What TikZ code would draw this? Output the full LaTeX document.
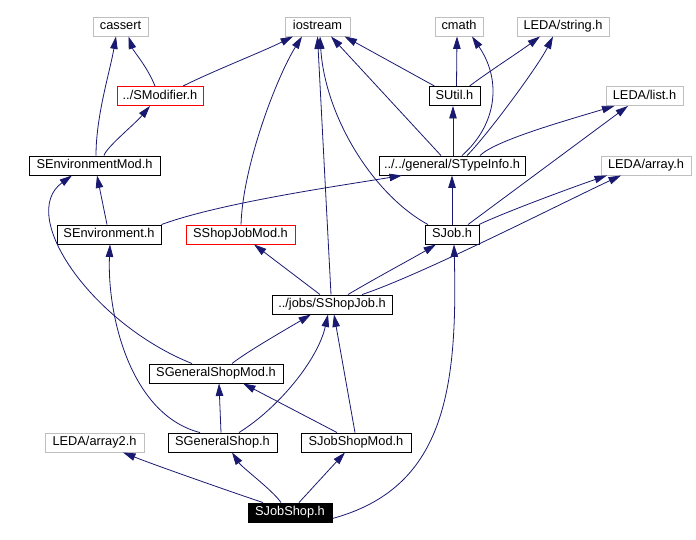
\documentclass[tikz,border=0pt]{standalone}
\usepackage{fontspec}
\newfontfamily\dotfont{Liberation Sans}
\usetikzlibrary{arrows.meta}

\definecolor{edgeblue}{HTML}{191970}
\definecolor{extgrey}{HTML}{BFBFBF}

\tikzset{
  hdr/.style={draw=black, fill=white, line width=0.9pt, inner xsep=2pt, inner ysep=0pt,
    minimum height=19pt, text height=9.6pt, text depth=2.7pt,
    font=\dotfont\fontsize{12.8}{14}\selectfont},
  ext/.style={hdr, draw=extgrey},
  miss/.style={hdr, draw=red},
  cur/.style={hdr, fill=black, text=white},
  dep/.style={edgeblue, line width=0.8pt, -{Triangle[length=12.5pt,width=7.5pt]}}
}

\begin{document}
\begin{tikzpicture}[x=1pt, y=-1pt]

\useasboundingbox (0,0) rectangle (696,540);

\node[ext, minimum width=55pt]   (cassert)  at (120.5,26.5) {cassert};
\node[ext, minimum width=65pt]   (iostream) at (317.5,26.5) {iostream};
\node[ext, minimum width=48pt]   (cmath)    at (459,26.5)   {cmath};
\node[ext, minimum width=92pt]   (ledastr)  at (563,26.5)   {LEDA/string.h};

\node[miss, minimum width=86pt]  (smod)     at (160,96)     {../SModifier.h};
\node[hdr, minimum width=51pt]   (sutil)    at (454.5,96)   {SUtil.h};
\node[ext, minimum width=77pt]   (ledalist) at (644.5,96)   {LEDA/list.h};

\node[hdr, minimum width=131pt]  (senvmod)  at (94.5,165.5) {SEnvironmentMod.h};
\node[hdr, minimum width=146pt]  (stype)    at (452,165.5)  {../../general/STypeInfo.h};
\node[ext, minimum width=90pt]   (ledaarr)  at (646,165.5)  {LEDA/array.h};

\node[hdr, minimum width=104pt]  (senv)     at (109,234.5)  {SEnvironment.h};
\node[miss, minimum width=109pt] (ssjmod)   at (240.5,234.5) {SShopJobMod.h};
\node[hdr, minimum width=54pt]   (sjob)     at (452,234.5)  {SJob.h};

\node[hdr, minimum width=120pt]  (sshopjob) at (332,304.5)  {../jobs/SShopJob.h};

\node[hdr, minimum width=134pt]  (sgsmod)   at (216,373.5)  {SGeneralShopMod.h};

\node[ext, minimum width=99pt]   (ledaarr2) at (94.5,442.5) {LEDA/array2.h};
\node[hdr, minimum width=109pt]  (sgs)      at (222.5,442.5) {SGeneralShop.h};
\node[hdr, minimum width=110pt]  (sjsmod)   at (356,442.5)  {SJobShopMod.h};

\node[cur, minimum width=84pt]   (sjs)      at (290,512.5)  {SJobShop.h};

\draw[dep] ([xshift=-5pt]smod.north) .. controls +(-8,-20) and +(5,15) .. ([xshift=8pt]cassert.south);
\draw[dep] ([xshift=23pt]smod.north) .. controls +(30,-15) and +(-30,15) .. ([xshift=-24.5pt]iostream.south);
\draw[dep] ([xshift=1.5pt]senvmod.north) .. controls +(0,-40) and +(-6,35) .. ([xshift=-4.5pt]cassert.south);
\draw[dep] ([xshift=9.5pt]senvmod.north) .. controls +(2,-8) and +(-15,18) .. ([xshift=-10pt]smod.south);
\draw[dep] ([xshift=-2pt]senv.north) -- ([xshift=2.5pt]senvmod.south);
\draw[dep] (senv.north east) .. controls +(60,-22) and +(-60,10) .. ([xshift=-50pt]stype.south);

\draw[dep] ([xshift=-20pt]sutil.north) -- ([xshift=27pt]iostream.south);
\draw[dep] ([xshift=2pt]sutil.north) -- ([xshift=-2pt]cmath.south);
\draw[dep] ([xshift=15pt]sutil.north) .. controls +(20,-15) and +(-20,15) .. ([xshift=-23pt]ledastr.south);

\draw[dep] ([xshift=-11pt]stype.north) -- ([xshift=13.5pt]iostream.south);
\draw[dep] ([xshift=10pt]stype.north) .. controls +(35,-31) and +(30,44) .. ([xshift=13pt]cmath.south);
\draw[dep] ([xshift=15pt]stype.north) .. controls +(20,-20) and +(-15,30) .. ([xshift=-10pt]ledastr.south);
\draw[dep] ([xshift=1pt]stype.north) -- ([xshift=-1.5pt]sutil.south);
\draw[dep] ([xshift=28pt]stype.north) .. controls +(15,-15) and +(-50,15) .. ([xshift=-30pt]ledalist.south);

\draw[dep] ([xshift=0.5pt]ssjmod.north) .. controls +(2,-60) and +(-25,40) .. ([xshift=-15.5pt]iostream.south);

\draw[dep] ([xshift=-24pt]sjob.north) .. controls +(-55,-30) and +(5,80) .. ([xshift=2.5pt]iostream.south);
\draw[dep] (sjob.north) -- (stype.south);
\draw[dep] ([xshift=16pt]sjob.north) -- ([xshift=-16.5pt]ledalist.south);
\draw[dep] ([xshift=27pt]sjob.north) .. controls +(25,-12) and +(-35,12) .. ([xshift=-39pt]ledaarr.south);

\draw[dep] ([xshift=-1pt]sshopjob.north) -- (iostream.south);
\draw[dep] ([xshift=-12pt]sshopjob.north) -- ([xshift=13.5pt]ssjmod.south);
\draw[dep] ([xshift=16pt]sshopjob.north) .. controls +(25,-15) and +(-20,12) .. ([xshift=-16pt]sjob.south);
\draw[dep] ([xshift=30pt]sshopjob.north) .. controls +(60,-20) and +(-60,28) .. ([xshift=-25pt]ledaarr.south);

\draw[dep] ([xshift=-24pt]sgsmod.north) .. controls +(-100,-40) and +(-55,40) .. ([xshift=-22.5pt]senvmod.south);
\draw[dep] ([xshift=16pt]sgsmod.north) .. controls +(15,-12) and +(-20,12) .. ([xshift=-21pt]sshopjob.south);

\draw[dep] ([xshift=-22.5pt]sgs.north) .. controls +(-70,-18) and +(-3,70) .. ([xshift=1pt]senv.south);
\draw[dep] ([xshift=-1.5pt]sgs.north) -- ([xshift=3pt]sgsmod.south);
\draw[dep] ([xshift=16.5pt]sgs.north) .. controls +(40,-25) and +(-10,45) .. ([xshift=-4pt]sshopjob.south);

\draw[dep] ([xshift=-19pt]sjsmod.north) -- ([xshift=27pt]sgsmod.south);
\draw[dep] ([xshift=-1pt]sjsmod.north) -- ([xshift=2pt]sshopjob.south);

\draw[dep] ([xshift=-27pt]sjs.north) .. controls +(-30,-10) and +(30,12) .. ([xshift=28.5pt]ledaarr2.south);
\draw[dep] ([xshift=-9pt]sjs.north) .. controls +(-8,-12) and +(10,15) .. ([xshift=9.5pt]sgs.south);
\draw[dep] ([xshift=9pt]sjs.north) -- ([xshift=-11pt]sjsmod.south);
\draw[dep] ([yshift=-6pt]sjs.east) .. controls +(110,-30) and +(4,150) .. ([xshift=2pt]sjob.south);

\end{tikzpicture}
\end{document}
